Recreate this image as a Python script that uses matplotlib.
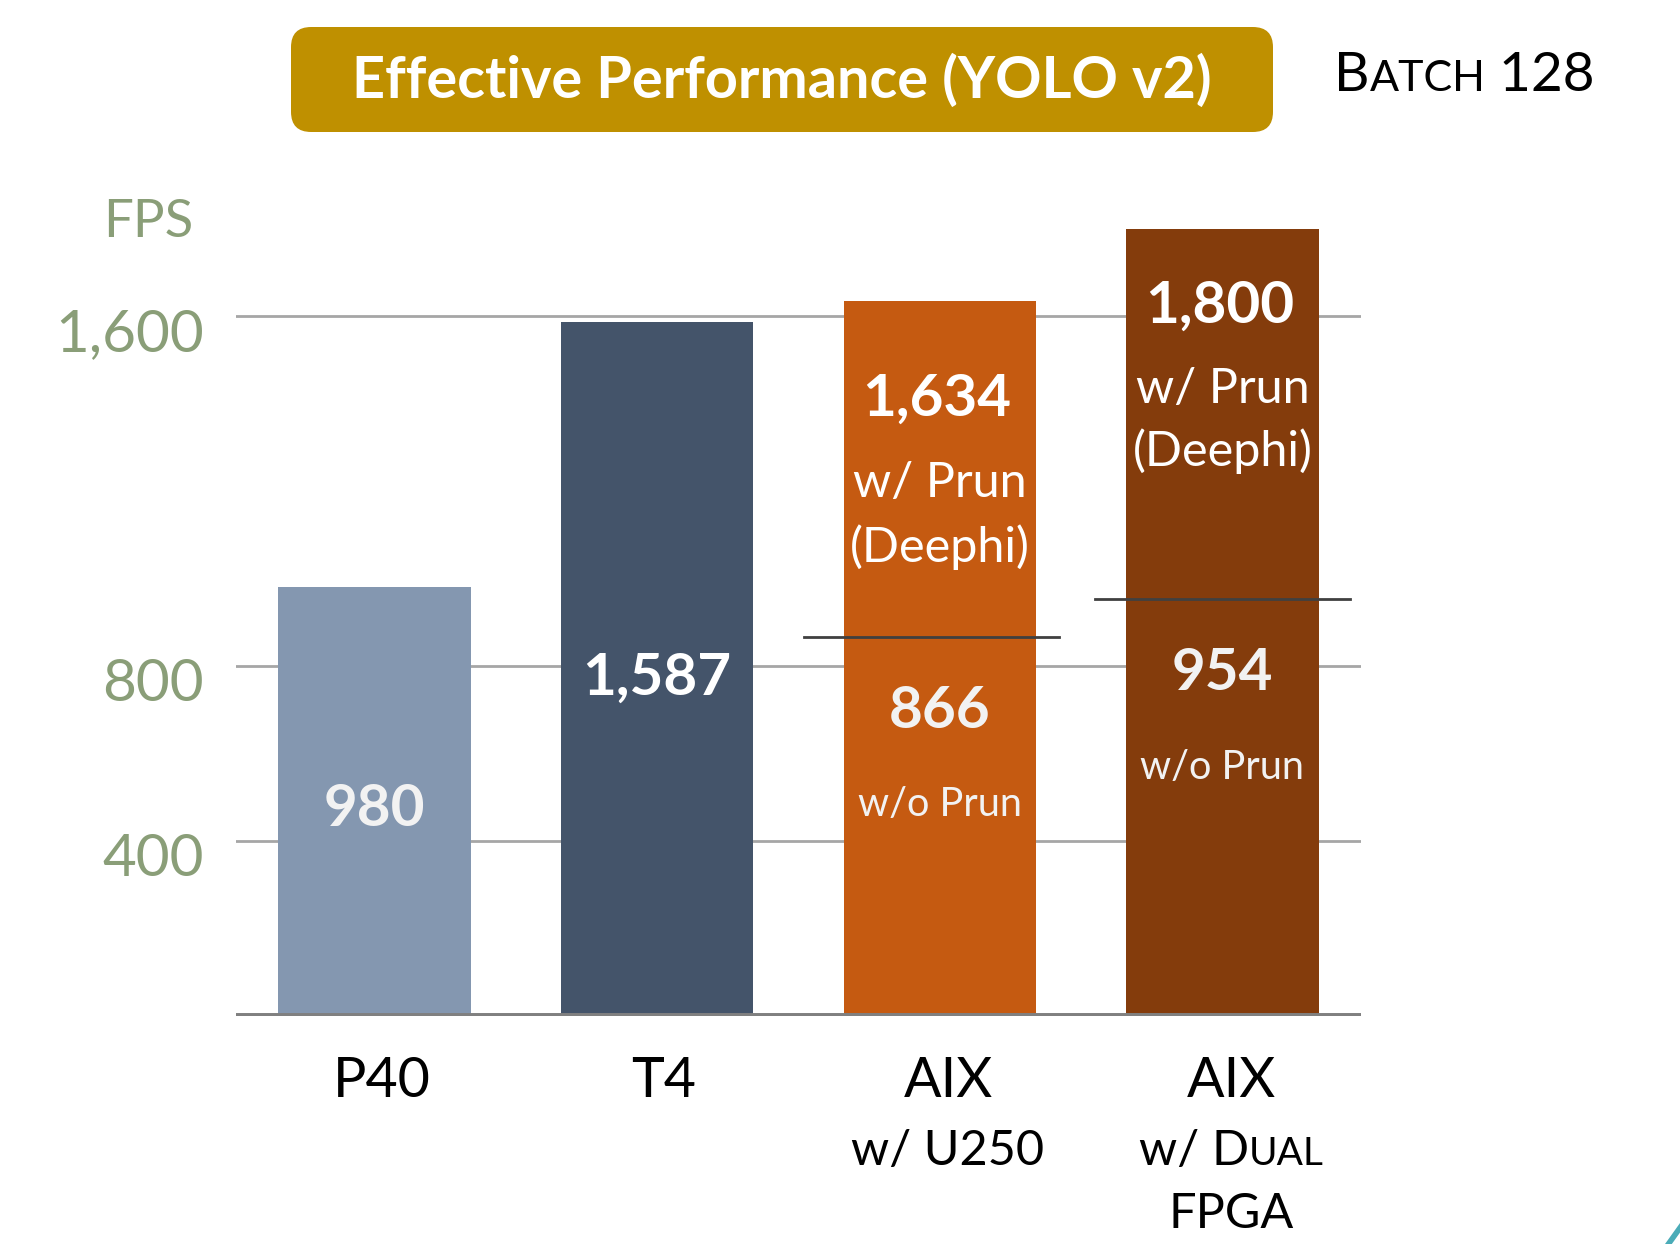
import matplotlib
matplotlib.use("Agg")
import matplotlib.pyplot as plt
from matplotlib.patches import FancyBboxPatch
from matplotlib.lines import Line2D

plt.rcParams['font.family'] = ['Lato', 'DejaVu Sans']

# ---- data ----
categories = ["P40", "T4", "AIX", "AIX"]
values = [980, 1587, 1634, 1800]
no_prune_values = [None, None, 866, 954]
bar_colors = ["#8497B0", "#44546A", "#C55A11", "#843C0C"]
yticks = [400, 800, 1600]
ytick_labels = ["400", "800", "1,600"]
title = "Effective Performance (YOLO v2)"

W, H = 1680, 1244
fig = plt.figure(figsize=(W / 100, H / 100), dpi=100)
fig.patch.set_facecolor("white")

ymax = 1900
ax = fig.add_axes([236 / W, (H - 1016) / H, (1361 - 236) / W, (ymax * 0.4375) / H])
ax.set_xlim(-0.49, 3.49)
ax.set_ylim(0, ymax)
for s in ax.spines.values():
    s.set_visible(False)
ax.set_xticks([])
ax.set_yticks([])
ax.patch.set_alpha(0)

for t in yticks:
    ax.axhline(t, color="#A6A6A6", lw=2, zorder=1)
ax.axhline(0, color="#808080", lw=5, zorder=3)

x = list(range(len(values)))
ax.bar(x, values, width=0.68, color=bar_colors, zorder=2)

# ytick labels (drawn slightly below the gridlines as in the reference)
for t, lab in zip(yticks, ytick_labels):
    ax.text(-0.603, t - 42, lab, ha="right", va="center", fontsize=42,
            color="#8A9E78", clip_on=False)
ax.text(-0.642, 1813, "FPS", ha="right", va="center", fontsize=38,
        color="#8A9E78", clip_on=False)

# prune separator lines
for i, v in enumerate(no_prune_values):
    if v is None:
        continue
    off = -0.03 if i == 2 else 0.0
    ax.plot([i + off - 0.452, i + off + 0.452], [v, v], color="#404040", lw=2, zorder=4)

white = "white"
offw = "#F2F2F2"
fv, fw, fo = 42, 35, 28.5
# value labels
ax.text(0, 471, "980", ha="center", va="center", fontsize=fv, fontweight="bold", color=offw, zorder=5)
ax.text(1, 772, "1,587", ha="center", va="center", fontsize=fv, fontweight="bold", color=white, zorder=5)
ax.text(2 - 0.01, 1409, "1,634", ha="center", va="center", fontsize=fv, fontweight="bold", color=white, zorder=5)
ax.text(2, 1218, "w/ Prun", ha="center", va="center", fontsize=fw, color=white, zorder=5)
ax.text(2, 1071, "(Deephi)", ha="center", va="center", fontsize=fw, color=white, zorder=5)
ax.text(2, 697, f"{no_prune_values[2]}", ha="center", va="center", fontsize=fv, fontweight="bold", color=offw, zorder=5)
ax.text(2, 483, "w/o Prun", ha="center", va="center", fontsize=fo, color=offw, zorder=5)
ax.text(3 - 0.01, 1622, "1,800", ha="center", va="center", fontsize=fv, fontweight="bold", color=white, zorder=5)
ax.text(3, 1434, "w/ Prun", ha="center", va="center", fontsize=fw, color=white, zorder=5)
ax.text(3, 1291, "(Deephi)", ha="center", va="center", fontsize=fw, color=white, zorder=5)
ax.text(3, 784, f"{no_prune_values[3]}", ha="center", va="center", fontsize=fv, fontweight="bold", color=offw, zorder=5)
ax.text(3, 569, "w/o Prun", ha="center", va="center", fontsize=fo, color=offw, zorder=5)

fig.canvas.draw()
renderer = fig.canvas.get_renderer()

def fy(py):
    return 1 - py / H

def fx(px):
    return px / W

def smallcaps(parts, cx, cy, ha="center", color="black"):
    # parts: list of (text, fontsize)
    texts = []
    widths = []
    for s, fs in parts:
        t = fig.text(0, fy(cy), s, fontsize=fs, color=color, va="baseline", ha="left")
        bb = t.get_window_extent(renderer)
        texts.append(t)
        widths.append(bb.width)
    total = sum(widths)
    start = cx - total / 2 if ha == "center" else cx
    cur = start
    for t, w in zip(texts, widths):
        t.set_x(fx(cur))
        cur += w

# category labels (baseline y positions in px)
fs_cat = 40
smallcaps([(categories[0], fs_cat)], 382, 1097)
smallcaps([(categories[1], fs_cat)], 664, 1097)
smallcaps([(categories[2], fs_cat)], 948, 1097)
smallcaps([("w/ U250", 35)], 948, 1165)
smallcaps([(categories[3], fs_cat)], 1231, 1097)
smallcaps([("w/ ", 35), ("D", 35), ("UAL", 28)], 1231, 1165)
smallcaps([("FPGA", 35)], 1231, 1228)

# Title box
box = FancyBboxPatch((fx(291), fy(132)), fx(1273 - 291), (132 - 27) / H,
                     boxstyle="round,pad=0,rounding_size=0.012",
                     transform=fig.transFigure, facecolor="#BF9000",
                     edgecolor="none", mutation_aspect=W / H)
fig.patches.append(box)
fig.text(fx(782), fy(81), title, ha="center", va="center", fontsize=41.5,
         fontweight="bold", color="white")

smallcaps([("B", 39.5), ("ATCH", 31), (" 128", 39.5)], 1334, 91, ha="left")

# decorative teal corner arc
fig.add_artist(Line2D([fx(1667), fx(1682)], [fy(1246), fy(1225)], transform=fig.transFigure,
                      color="#4BACB8", lw=4))

fig.savefig("out.png", dpi=100, facecolor="white")
